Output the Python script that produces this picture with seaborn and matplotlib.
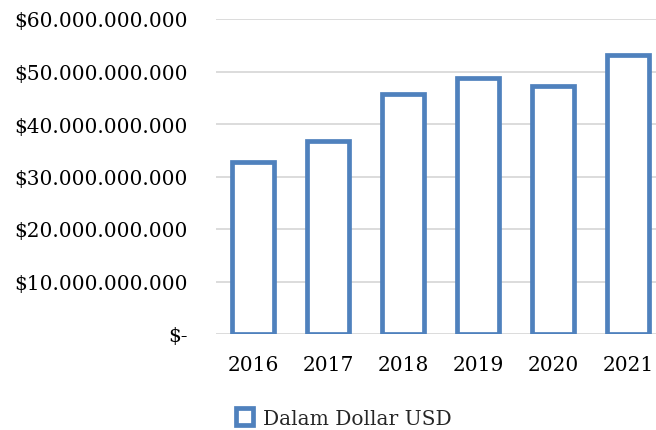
import matplotlib
matplotlib.use("Agg")
import matplotlib.pyplot as plt
import seaborn as sns
import pandas as pd

years = ["2016", "2017", "2018", "2019", "2020", "2021"]
values = [32.7e9, 36.8e9, 45.7e9, 48.8e9, 47.2e9, 53.2e9]
y_ticks = [0, 10e9, 20e9, 30e9, 40e9, 50e9, 60e9]
y_tick_labels = ["$-", "$10.000.000.000", "$20.000.000.000", "$30.000.000.000",
                 "$40.000.000.000", "$50.000.000.000", "$60.000.000.000"]
series_name = "Dalam Dollar USD"

BLUE = "#4F81BD"
GRID = "#D9D9D9"

sns.set_theme(style="white")
plt.rcParams["font.family"] = ["DejaVu Serif"]

df = pd.DataFrame({"year": years, "value": values})

fig = plt.figure(figsize=(6.56, 4.31), dpi=100)
W, H = 656, 431
ax = fig.add_axes([215.5 / W, 1 - 335 / H, (665.5 - 215.5) / W, (335 - 20) / H])

sns.barplot(data=df, x="year", y="value", ax=ax, color="white",
            edgecolor=BLUE, linewidth=3.4, width=0.573, zorder=3)
for p in ax.patches:
    p.set_joinstyle("miter")

ax.set_ylim(0, 60e9)
ax.set_xlim(-0.5, 5.5)
ax.set_yticks(y_ticks)
ax.set_yticklabels(y_tick_labels)
ax.grid(axis="y", color=GRID, linewidth=1.3, zorder=0)
ax.grid(axis="x", visible=False)
ax.set_axisbelow(True)
for s in ax.spines.values():
    s.set_visible(False)
ax.set_xlabel("")
ax.set_ylabel("")
ax.tick_params(axis="y", length=0, pad=20, labelsize=14.5, labelcolor="#000000")
ax.tick_params(axis="x", length=0, pad=15, labelsize=14.5, labelcolor="#000000")

handle = ax.patches[0]
leg = fig.legend([handle], [series_name], loc="center", bbox_to_anchor=(344 / W, 1 - 419 / H),
                 frameon=False, fontsize=14.5, handlelength=0.85, handleheight=0.85,
                 handletextpad=0.5)
for h in leg.legend_handles:
    h.set_joinstyle("miter")

fig.savefig("out.png", dpi=100)
